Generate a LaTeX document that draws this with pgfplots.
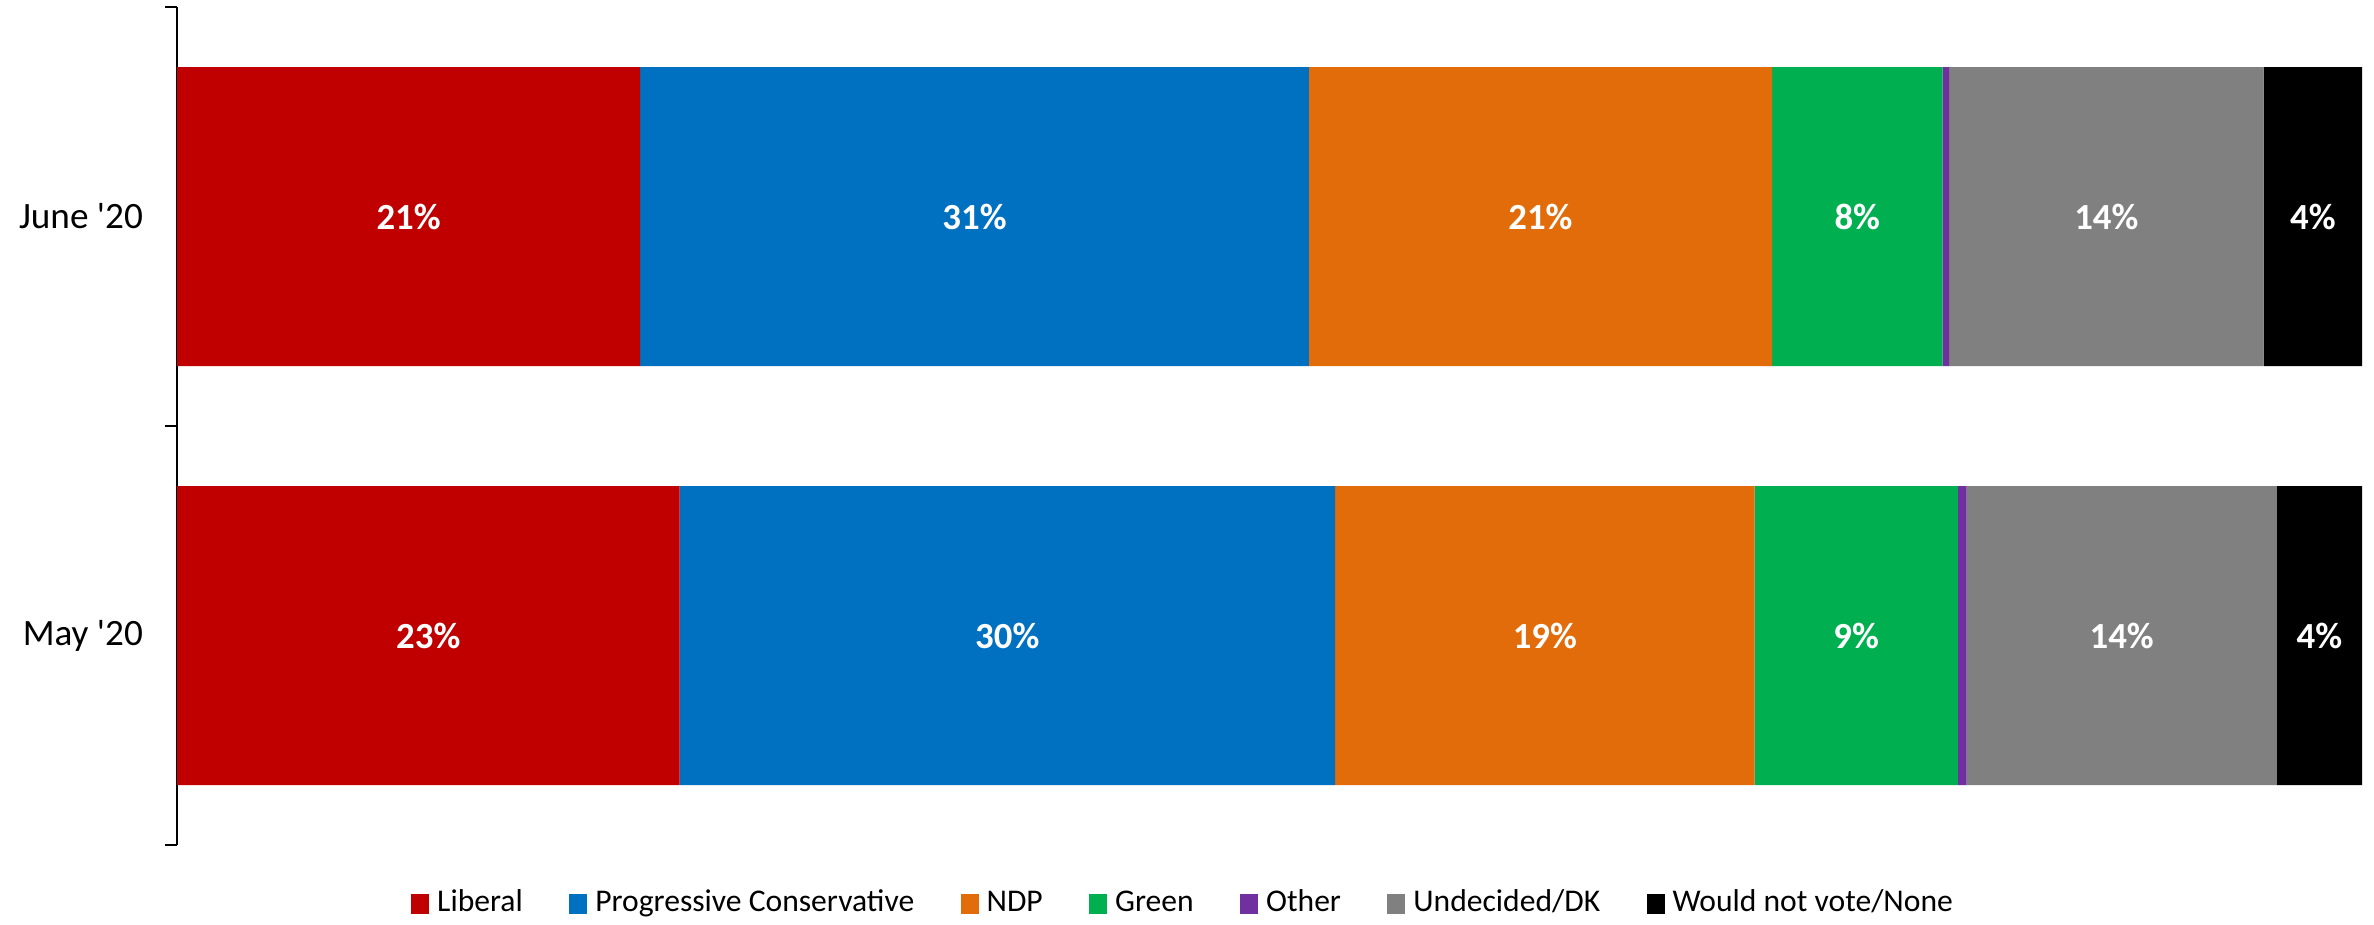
\documentclass[border=0pt]{standalone}
\usepackage{pgfplots}
\pgfplotsset{compat=1.18}
\usepackage{fontspec}
\setmainfont{Carlito}
\definecolor{lib}{HTML}{C00000}
\definecolor{pc}{HTML}{0070C0}
\definecolor{ndp}{HTML}{E36C0A}
\definecolor{grn}{HTML}{00B050}
\definecolor{oth}{HTML}{7030A0}
\definecolor{und}{HTML}{808080}
\definecolor{non}{HTML}{000000}
\begin{document}
\begin{tikzpicture}
\path[use as bounding box] (0,0) rectangle (593.5pt,231pt);
\begin{axis}[
  at={(44.25pt,19.75pt)}, anchor=south west,
  scale only axis, width=546.25pt, height=209.5pt,
  xbar stacked, bar width=74.75pt,
  xmin=0, xmax=100, ymin=-0.5, ymax=1.5,
  axis x line=none,
  axis y line=left,
  y axis line style={-, line width=0.5pt},
  ytick={0,1}, yticklabels={May \textquotesingle 20, June \textquotesingle 20},
  major tick length=0pt,
  minor ytick={-0.5,0.5,1.5}, minor tick length=3pt, tick align=outside,
  tick style={black, line width=0.5pt},
  yticklabel style={font=\fontsize{9.3}{11}\selectfont, xshift=-5pt},
  point meta=explicit symbolic,
  nodes near coords,
  every node near coord/.append style={anchor=center, text=white, font=\fontsize{9.2}{11}\selectfont\bfseries},
  legend columns=-1,
  legend style={at={(0.4618,-0.0704)}, anchor=center, draw=none, fill=none,
    font=\fontsize{7.9}{9}\selectfont,
    /tikz/every even column/.append style={column sep=9.6pt},
    /tikz/every odd column/.append style={column sep=0pt}},
  legend image code/.code={\fill[#1] (0pt,-2.4pt) rectangle (4.5pt,2.6pt);},
]
\addplot[fill=lib, draw=none] coordinates {(21.2,1) [21\%] (23.0,0) [23\%]};
\addplot[fill=pc, draw=none] coordinates {(30.6,1) [31\%] (30.0,0) [30\%]};
\addplot[fill=ndp, draw=none] coordinates {(21.2,1) [21\%] (19.2,0) [19\%]};
\addplot[fill=grn, draw=none] coordinates {(7.8,1) [8\%] (9.3,0) [9\%]};
\addplot[fill=oth, draw=none] coordinates {(0.3,1) [] (0.4,0) []};
\addplot[fill=und, draw=none] coordinates {(14.4,1) [14\%] (14.2,0) [14\%]};
\addplot[fill=non, draw=none] coordinates {(4.5,1) [4\%] (3.9,0) [4\%]};
\legend{Liberal, Progressive Conservative, NDP, Green, Other, Undecided/DK, Would not vote/None}
\end{axis}
\end{tikzpicture}
\end{document}
